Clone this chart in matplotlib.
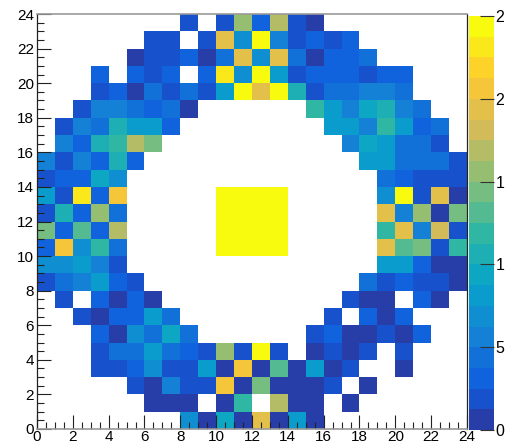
import numpy as np
import matplotlib.pyplot as plt
from matplotlib.colors import LinearSegmentedColormap, ListedColormap, BoundaryNorm
from matplotlib.ticker import MultipleLocator

plt.rcParams['font.family'] = ['Liberation Sans', 'DejaVu Sans']

# bin edges 0..24 in both directions
x_edges = np.arange(0, 25)
y_edges = np.arange(0, 25)

# bin contents, first row = top bin (y 23-24), last row = bottom bin (y 0-1)
counts = [
    [0, 0, 0, 0, 0, 0, 0, 0, 2, 0, 2, 15.5, 3, 17, 2, 1, 0, 0, 0, 0, 0, 0, 0, 0],
    [0, 0, 0, 0, 0, 0, 2, 2, 0, 2, 19.5, 7, 24.5, 5.5, 2, 3, 2, 3, 0, 0, 0, 0, 0, 0],
    [0, 0, 0, 0, 0, 1, 2, 2, 3, 1, 4.5, 19.5, 7, 19.5, 4.5, 1, 3, 3, 4.5, 0, 0, 0, 0, 0],
    [0, 0, 0, 3, 0, 3, 2, 3, 0, 3, 23, 7, 24.5, 8, 2, 3, 3, 3, 2, 3, 3, 0, 0, 0],
    [0, 0, 0, 2, 3, 1, 4.5, 2, 4.5, 2, 8, 24.5, 19.5, 24.5, 10.5, 2, 4.5, 4.5, 5.5, 5.5, 4.5, 0, 0, 0],
    [0, 0, 2, 5.5, 5.5, 4.5, 3, 4.5, 1, 0, 0, 0, 0, 0, 0, 12, 8, 5.5, 9.5, 10.5, 5.5, 4.5, 0, 0],
    [0, 2, 5.5, 4.5, 10.5, 8, 8, 3, 0, 0, 0, 0, 0, 0, 0, 0, 8, 8, 5.5, 12, 8, 3, 4.5, 0],
    [0, 5.5, 3, 10.5, 12, 17, 14.5, 0, 0, 0, 0, 0, 0, 0, 0, 0, 0, 5.5, 9.5, 8, 4.5, 4.5, 2, 0],
    [5.5, 2, 5.5, 3, 10.5, 3, 0, 0, 0, 0, 0, 0, 0, 0, 0, 0, 0, 0, 8, 8, 4.5, 4.5, 4.5, 2],
    [2, 3, 3, 9.5, 7, 0, 0, 0, 0, 0, 0, 0, 0, 0, 0, 0, 0, 0, 0, 4.5, 3, 2, 2, 2],
    [8, 2, 23, 3, 20.5, 0, 0, 0, 0, 0, 25, 25, 25, 25, 0, 0, 0, 0, 0, 7, 24.5, 2, 19.5, 1],
    [2, 10.5, 3, 15.5, 4.5, 0, 0, 0, 0, 0, 25, 25, 25, 25, 0, 0, 0, 0, 0, 19.5, 5.5, 15.5, 1, 14.5],
    [14.5, 3, 13, 3, 17, 0, 0, 0, 0, 0, 25, 25, 25, 25, 0, 0, 0, 0, 0, 12, 19.5, 5.5, 18, 2],
    [3, 20, 7, 12, 4.5, 0, 0, 0, 0, 0, 25, 25, 25, 25, 0, 0, 0, 0, 0, 19.5, 13, 14.5, 2, 12],
    [7, 7, 8, 5.5, 2, 0, 0, 0, 0, 0, 0, 0, 0, 0, 0, 0, 0, 0, 0, 7.5, 7.5, 3.5, 1, 1],
    [2, 4.5, 5.5, 8, 3, 2, 0, 0, 0, 0, 0, 0, 0, 0, 0, 0, 0, 0, 4.5, 2, 3, 2, 2, 1],
    [0, 2, 0, 3, 1, 3, 1, 0, 0, 0, 0, 0, 0, 0, 0, 0, 0, 2, 1, 1, 0, 3, 1, 0],
    [0, 0, 2, 1, 3, 3, 8, 4.5, 0, 0, 0, 0, 0, 0, 0, 0, 2, 0, 3, 1, 3, 0, 0, 0],
    [0, 0, 0, 3, 1, 7, 4.5, 9.5, 4.5, 0, 0, 0, 0, 0, 0, 2, 3, 1, 1, 2, 1, 3, 0, 0],
    [0, 0, 0, 2, 4.5, 4.5, 8, 4.5, 3, 2, 15.5, 2, 24.5, 2, 0, 1, 2, 1, 2, 0, 2, 0, 0, 0],
    [0, 0, 0, 2, 2, 3, 7, 2, 2, 8, 1, 20.5, 1, 13, 1, 8, 1, 2, 0, 0, 1, 0, 0, 0],
    [0, 0, 0, 0, 0, 2, 1, 5.5, 2, 2, 20.5, 1, 14.5, 1, 1, 1, 2, 0, 1, 0, 0, 0, 0, 0],
    [0, 0, 0, 0, 0, 0, 1, 1, 1, 0, 1, 12, 0, 17, 1, 1, 0, 1, 0, 0, 0, 0, 0, 0],
    [0, 0, 0, 0, 0, 0, 0, 0, 7, 1, 9.5, 1, 19.5, 1, 7.5, 1, 0, 0, 0, 0, 0, 0, 0, 0],
]

z_max = 25
n_levels = 20
cbar_ticks = [0, 5, 10, 15, 20, 25]
cbar_labels = ['0', '5', '1', '1', '2', '2']  # as cut off at the right edge

# ROOT kBird palette, 20 contour colours
bird_stops = [0.0, 0.125, 0.25, 0.375, 0.5, 0.625, 0.75, 0.875, 1.0]
bird_r = [0.2082, 0.0592, 0.0780, 0.0232, 0.1802, 0.5301, 0.8186, 0.9956, 0.9764]
bird_g = [0.1664, 0.3599, 0.5041, 0.6419, 0.7178, 0.7492, 0.7328, 0.7862, 0.9832]
bird_b = [0.5293, 0.8684, 0.8385, 0.7914, 0.6425, 0.4662, 0.3499, 0.1968, 0.0539]
bird = LinearSegmentedColormap.from_list(
    'bird', list(zip(bird_stops, zip(bird_r, bird_g, bird_b))))
idx = [int((i + 0.99) * 255 / n_levels) / 254 for i in range(n_levels)]
cmap = ListedColormap([bird(min(f, 1.0)) for f in idx])
norm = BoundaryNorm(np.linspace(0, z_max, n_levels + 1), n_levels)

z = np.array(counts)[::-1]
z = np.ma.masked_where(z <= 0, z)

fig = plt.figure(figsize=(5.06, 4.46), dpi=100)
ax = fig.add_axes([37 / 506, 17 / 446, 430 / 506, 415 / 446])
ax.pcolormesh(x_edges, y_edges, z, cmap=cmap, norm=norm,
              antialiased=False, linewidth=0)
ax.set_xlim(0, 24)
ax.set_ylim(0, 24)

ax.xaxis.set_major_locator(MultipleLocator(2))
ax.xaxis.set_minor_locator(MultipleLocator(0.5))
ax.yaxis.set_major_locator(MultipleLocator(2))
ax.yaxis.set_minor_locator(MultipleLocator(0.5))
ax.tick_params(which='both', direction='in', labelsize=11, width=0.8,
               top=False, right=False, color='#222222')
ax.tick_params(which='major', length=10)
ax.tick_params(which='minor', length=5.2)
ax.tick_params(axis='x', pad=1)
ax.tick_params(axis='y', pad=2)
for s in ['left', 'right']:
    ax.spines[s].set_color('#222222')
    ax.spines[s].set_linewidth(0.9)
for s in ['top', 'bottom']:
    ax.spines[s].set_color('#999999')
    ax.spines[s].set_linewidth(1.2)

# palette box
cax = fig.add_axes([469 / 506, 16 / 446, 25 / 506, 414 / 446])
levels = np.linspace(0, z_max, n_levels + 1)
cax.pcolormesh([0, 1], levels, ((levels[:-1] + levels[1:]) / 2).reshape(-1, 1),
               cmap=cmap, norm=norm, antialiased=False, linewidth=0)
cax.set_xlim(0, 1)
cax.set_ylim(0, z_max)
cax.set_xticks([])
cax.yaxis.tick_right()
cax.set_yticks(cbar_ticks)
cax.set_yticklabels(cbar_labels)
cax.tick_params(axis='y', direction='in', length=10, width=0.8, labelsize=11.5,
                pad=1, color='#333333')
for s in cax.spines.values():
    s.set_visible(False)

fig.savefig('out.png', dpi=100)
